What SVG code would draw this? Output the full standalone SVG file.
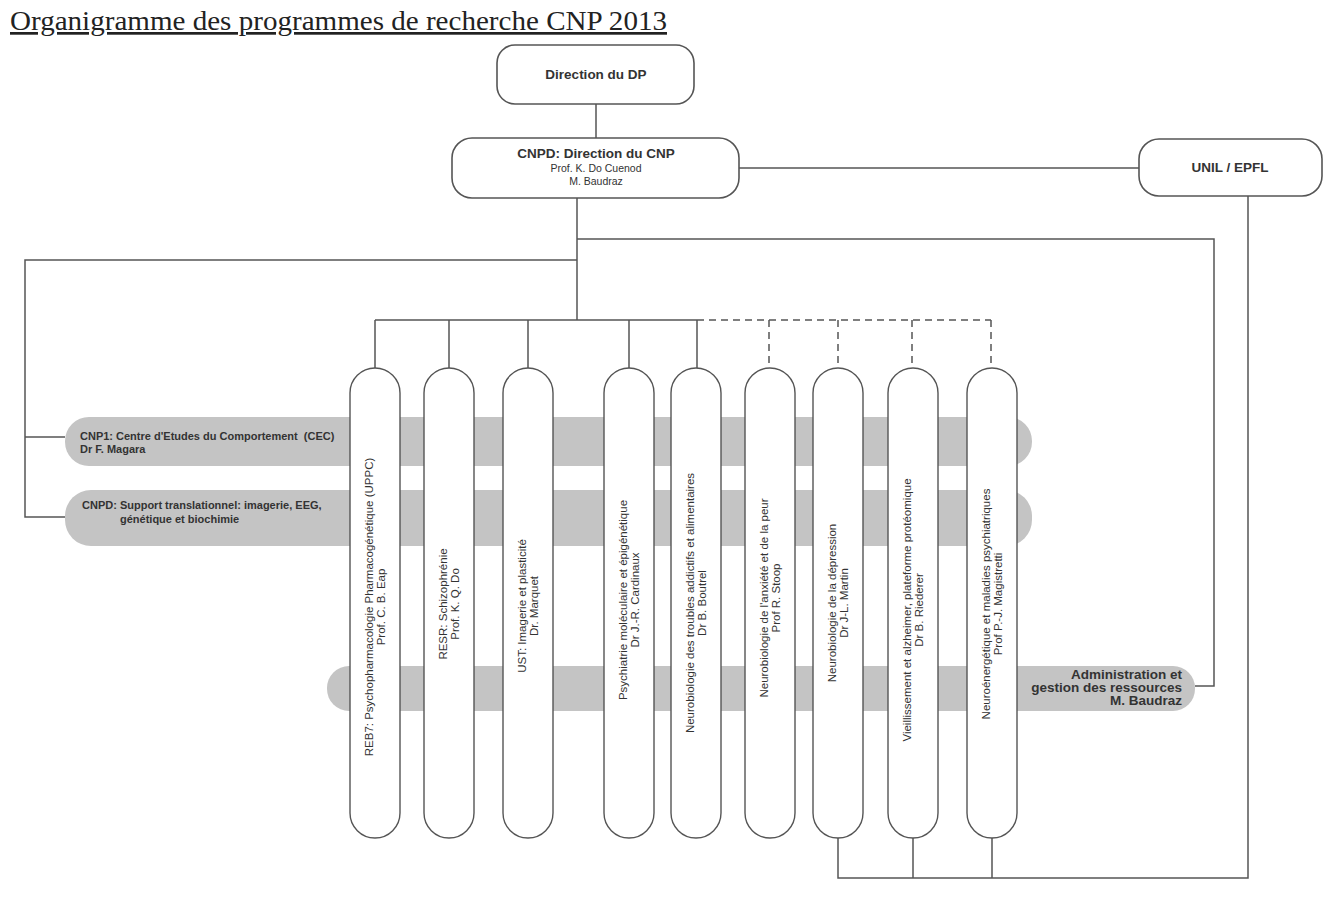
<svg xmlns="http://www.w3.org/2000/svg" width="1337" height="899" viewBox="0 0 1337 899">
<style>
.box{fill:#fff;stroke:#555;stroke-width:1.6}
.pill{fill:#fff;stroke:#555;stroke-width:1.4}
.band{fill:#c4c4c4;stroke:none}
.ln{fill:none;stroke:#555;stroke-width:1.5}
.dash{fill:none;stroke:#555;stroke-width:1.5;stroke-dasharray:7 5}
.hb{font-family:"Liberation Sans",Arial,sans-serif;font-weight:bold;font-size:13.5px;fill:#333;text-anchor:middle}
.hs{font-family:"Liberation Sans",Arial,sans-serif;font-size:10.5px;fill:#333;text-anchor:middle}
.bt{font-family:"Liberation Sans",Arial,sans-serif;font-weight:bold;font-size:11px;fill:#333}
.at{font-family:"Liberation Sans",Arial,sans-serif;font-weight:bold;font-size:13.5px;fill:#333;text-anchor:end}
.pt{font-family:"Liberation Sans",Arial,sans-serif;font-size:11.5px;fill:#333;text-anchor:middle}
.title{font-family:"Liberation Serif","Times New Roman",serif;font-size:27px;fill:#222;text-decoration:underline}
</style>
<rect width="1337" height="899" fill="#fff"/>
<text class="title" x="10" y="30" textLength="657" lengthAdjust="spacingAndGlyphs">Organigramme des programmes de recherche CNP 2013</text>

<g id="bands">
<g id="band-cnp1"><rect class="band" x="65" y="417" width="967" height="49" rx="24"/>
<text class="bt" x="80" y="440">CNP1: Centre d'Etudes du Comportement&#160; (CEC)</text>
<text class="bt" x="80" y="453">Dr F. Magara</text></g>
<g id="band-cnpd"><rect class="band" x="65" y="490" width="967" height="56" rx="26"/>
<text class="bt" x="82" y="509">CNPD: Support translationnel: imagerie, EEG,</text>
<text class="bt" x="120" y="523">génétique et biochimie</text></g>
<g id="band-admin"><rect class="band" x="327" y="666" width="868" height="45" rx="22"/>
<text class="at" x="1182" y="679">Administration et</text>
<text class="at" x="1182" y="692">gestion des ressources</text>
<text class="at" x="1182" y="705">M. Baudraz</text></g>
</g>

<g id="connectors">
<path class="ln" d="M596 104V138"/>
<path class="ln" d="M739 168H1139"/>
<path class="ln" d="M577 198V320"/>
<path class="ln" d="M577 260H25V517H65M25 437H65"/>
<path class="ln" d="M577 239H1214V686H1195"/>
<path class="ln" d="M375 320H697"/>
<path class="dash" d="M697 320H991"/>
<path class="ln" d="M375 320V368M449 320V368M528 320V368M629 320V368M697 320V368"/>
<path class="dash" d="M769 320V368M838 320V368M912 320V368M991 320V368"/>
<path class="ln" d="M838 838V878H1248V196M913 838V878M992 838V878"/>
</g>

<g id="n-dp"><rect class="box" x="497" y="45" width="197" height="59" rx="18"/>
<text class="hb" x="596" y="79">Direction du DP</text></g>
<g id="n-cnpd"><rect class="box" x="452" y="138" width="287" height="60" rx="20"/>
<text class="hb" x="596" y="158">CNPD: Direction du CNP</text>
<text class="hs" x="596" y="172">Prof. K. Do Cuenod</text>
<text class="hs" x="596" y="185">M. Baudraz</text></g>
<g id="n-unil"><rect class="box" x="1139" y="139" width="183" height="57" rx="20"/>
<text class="hb" x="1230" y="172">UNIL / EPFL</text></g>

<g id="p1"><rect class="pill" x="350" y="368" width="50" height="470" rx="25"/>
<text class="pt" transform="translate(375 607) rotate(-90)"><tspan x="0" y="-2">REB7: Psychopharmacologie Pharmacogénétique (UPPC)</tspan><tspan x="0" y="10">Prof. C. B. Eap</tspan></text></g>
<g id="p2"><rect class="pill" x="424" y="368" width="50" height="470" rx="25"/>
<text class="pt" transform="translate(449 604) rotate(-90)"><tspan x="0" y="-2">RESR: Schizophrénie</tspan><tspan x="0" y="10">Prof. K. Q. Do</tspan></text></g>
<g id="p3"><rect class="pill" x="503" y="368" width="50" height="470" rx="25"/>
<text class="pt" transform="translate(528 606) rotate(-90)"><tspan x="0" y="-2">UST: Imagerie et plasticité</tspan><tspan x="0" y="10">Dr. Marquet</tspan></text></g>
<g id="p4"><rect class="pill" x="604" y="368" width="50" height="470" rx="25"/>
<text class="pt" transform="translate(629 600) rotate(-90)"><tspan x="0" y="-2">Psychiatrie moléculaire et épigénétique</tspan><tspan x="0" y="10">Dr J.-R. Cardinaux</tspan></text></g>
<g id="p5"><rect class="pill" x="671" y="368" width="50" height="470" rx="25"/>
<text class="pt" transform="translate(696 603) rotate(-90)"><tspan x="0" y="-2">Neurobiologie des troubles addictifs et alimentaires</tspan><tspan x="0" y="10">Dr B. Boutrel</tspan></text></g>
<g id="p6"><rect class="pill" x="745" y="368" width="50" height="470" rx="25"/>
<text class="pt" transform="translate(770 598) rotate(-90)"><tspan x="0" y="-2">Neurobiologie de l'anxiété et de la peur</tspan><tspan x="0" y="10">Prof R. Stoop</tspan></text></g>
<g id="p7"><rect class="pill" x="813" y="368" width="50" height="470" rx="25"/>
<text class="pt" transform="translate(838 603) rotate(-90)"><tspan x="0" y="-2">Neurobiologie de la dépression</tspan><tspan x="0" y="10">Dr J-L. Martin</tspan></text></g>
<g id="p8"><rect class="pill" x="888" y="368" width="50" height="470" rx="25"/>
<text class="pt" transform="translate(913 610) rotate(-90)"><tspan x="0" y="-2">Vieillissement et alzheimer, plateforme protéomique</tspan><tspan x="0" y="10">Dr B. Riederer</tspan></text></g>
<g id="p9"><rect class="pill" x="967" y="368" width="50" height="470" rx="25"/>
<text class="pt" transform="translate(992 604) rotate(-90)"><tspan x="0" y="-2">Neuroénergétique et maladies psychiatriques</tspan><tspan x="0" y="10">Prof P.-J. Magistretti</tspan></text></g>
</svg>
